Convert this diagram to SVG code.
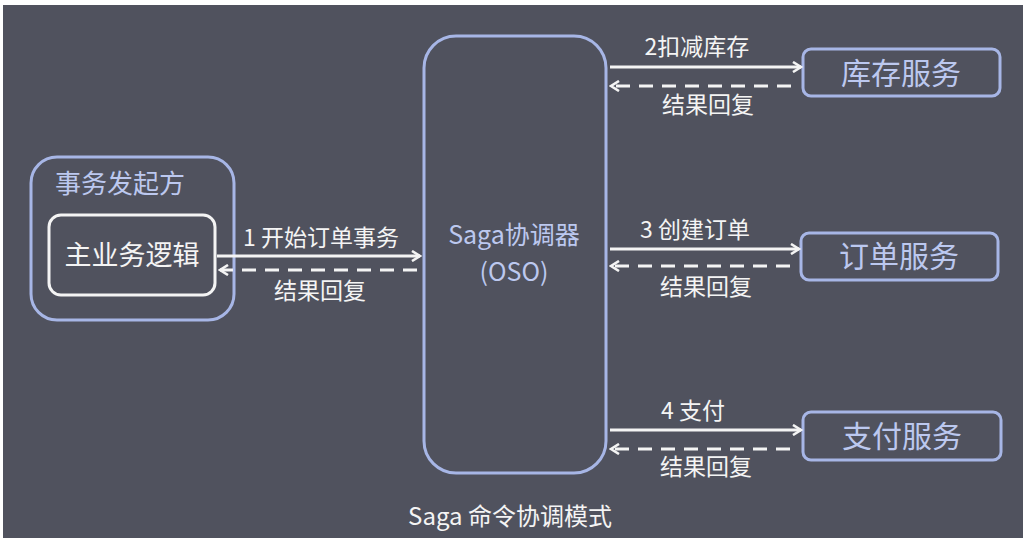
<svg xmlns="http://www.w3.org/2000/svg" width="1023" height="546" viewBox="0 0 1023 546">
<defs>
<style>
.t{font-family:"Microsoft YaHei","Noto Sans CJK SC","Noto Sans",sans-serif;}
.blue{fill:#bcc8ef;}
.white{fill:#f4f4f4;}
.box{fill:none;stroke:#a7b6e6;stroke-width:3;}
.solid{stroke:#f4f4f4;stroke-width:3;fill:none;}
.dash{stroke:#f4f4f4;stroke-width:3;fill:none;stroke-dasharray:14 9;}
.lbl{font-size:23px;text-anchor:middle;}
.svc{font-size:30px;text-anchor:middle;}
</style>
<marker id="ah" viewBox="0 0 12 12" refX="10" refY="6" markerWidth="12" markerHeight="12" markerUnits="userSpaceOnUse" orient="auto">
<path d="M2,1 L10,6 L2,11" fill="none" stroke="#f4f4f4" stroke-width="2.6" stroke-linejoin="miter"/>
</marker>
</defs>
<rect x="0" y="0" width="1023" height="546" fill="#ffffff"/>
<rect x="3" y="5" width="1020" height="533" fill="#50525e"/>

<g id="initiator">
<rect x="31" y="157" width="203" height="163" rx="26" class="box"/>
<text x="55" y="193" class="t blue" font-size="26">事务发起方</text>
</g>
<g id="main-logic">
<rect x="49" y="215" width="166" height="80" rx="12" fill="none" stroke="#f4f4f4" stroke-width="3"/>
<text x="132" y="265" class="t white" font-size="27" text-anchor="middle">主业务逻辑</text>
</g>
<g id="saga">
<rect x="424" y="36" width="182" height="437" rx="32" class="box"/>
<text x="514" y="244" class="t blue" font-size="25" text-anchor="middle">Saga协调器</text>
<text x="514" y="281" class="t blue" font-size="25" text-anchor="middle">(OSO)</text>
</g>
<g id="inventory">
<rect x="803" y="49" width="197" height="47" rx="8" class="box"/>
<text x="901" y="84" class="t blue svc">库存服务</text>
</g>
<g id="order">
<rect x="801" y="233" width="197" height="47" rx="8" class="box"/>
<text x="899" y="267" class="t blue svc">订单服务</text>
</g>
<g id="payment">
<rect x="803" y="412" width="198" height="48" rx="8" class="box"/>
<text x="902" y="447" class="t blue svc">支付服务</text>
</g>

<g id="connectors">
<line x1="217" y1="256" x2="420" y2="256" class="solid" marker-end="url(#ah)"/>
<line x1="417" y1="270" x2="220" y2="270" class="dash" marker-end="url(#ah)"/>
<line x1="610" y1="67" x2="801" y2="67" class="solid" marker-end="url(#ah)"/>
<line x1="791" y1="86" x2="611" y2="86" class="dash" marker-end="url(#ah)"/>
<line x1="610" y1="249" x2="799" y2="249" class="solid" marker-end="url(#ah)"/>
<line x1="790" y1="266" x2="611" y2="266" class="dash" marker-end="url(#ah)"/>
<line x1="610" y1="430" x2="801" y2="430" class="solid" marker-end="url(#ah)"/>
<line x1="790" y1="449" x2="611" y2="449" class="dash" marker-end="url(#ah)"/>
</g>

<g id="labels">
<text x="321" y="246" class="t white lbl">1 开始订单事务</text>
<text x="320" y="299" class="t white lbl">结果回复</text>
<text x="697" y="55" class="t white lbl">2扣减库存</text>
<text x="708" y="113" class="t white lbl">结果回复</text>
<text x="695" y="238" class="t white lbl">3 创建订单</text>
<text x="706" y="295" class="t white lbl">结果回复</text>
<text x="693" y="419" class="t white lbl">4 支付</text>
<text x="706" y="475" class="t white lbl">结果回复</text>
<text x="510" y="525" class="t white" font-size="24" text-anchor="middle">Saga 命令协调模式</text>
</g>
</svg>
